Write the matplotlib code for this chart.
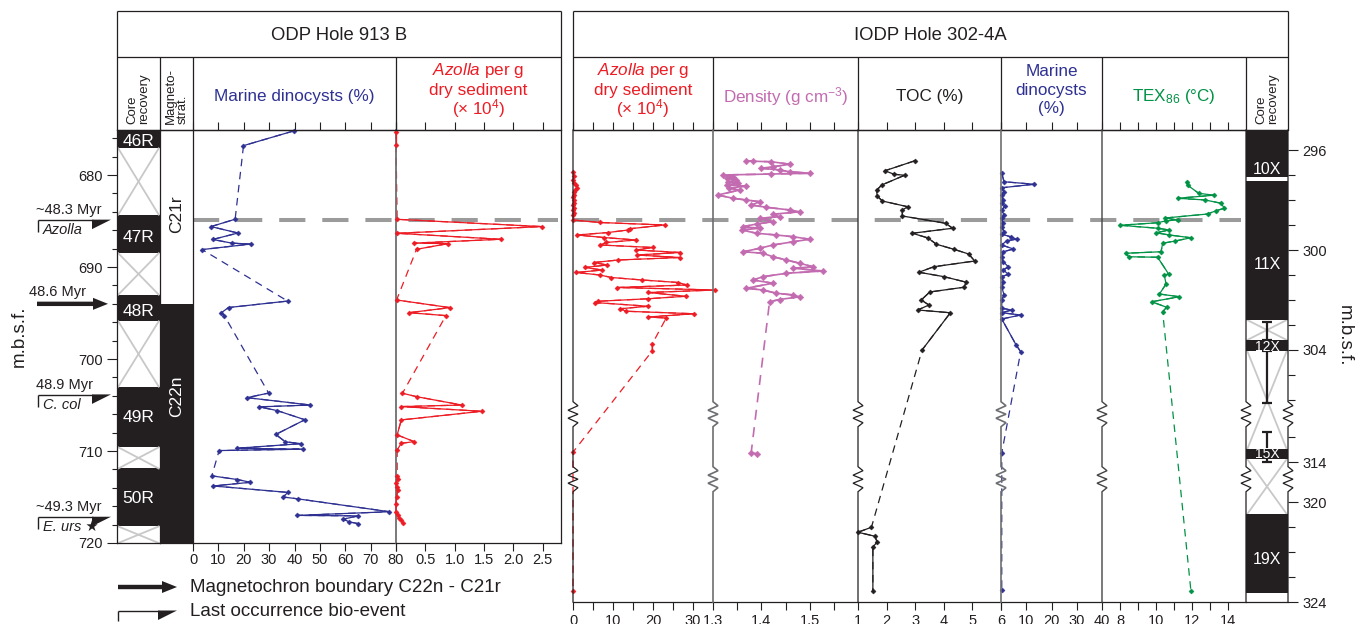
import numpy as np
import matplotlib
matplotlib.use("Agg")
import matplotlib.pyplot as plt
from matplotlib.patches import Polygon
from matplotlib.ticker import FixedLocator, NullFormatter

plt.rcParams["font.family"] = ["Liberation Sans", "DejaVu Sans"]
plt.rcParams["mathtext.fontset"] = "custom"
plt.rcParams["mathtext.rm"] = "Liberation Sans"
plt.rcParams["mathtext.it"] = "Liberation Sans:italic"
plt.rcParams["mathtext.sf"] = "Liberation Sans"
plt.rcParams["mathtext.default"] = "regular"

# =====================================================================
# DATA  -- ODP Hole 913B (depth, m.b.s.f.)
# =====================================================================
odp_core_names = ["46R", "47R", "48R", "49R", "50R"]
odp_core_top = [675.1, 684.3, 693.0, 703.0, 711.9]
odp_core_bot = [677.1, 688.5, 695.9, 709.6, 718.2]
odp_gap_top = [677.1, 688.5, 695.9, 709.6, 718.2]
odp_gap_bot = [684.3, 693.0, 703.0, 711.9, 720.0]
odp_chron_boundary = 694.0          # C22n / C21r

odp_dino_depth = [675.2, 676.8, 684.8, 685.6, 686.3, 687.0, 687.4, 687.5, 688.1,
                  693.7, 694.4, 695.0, 695.3,
                  703.7, 704.2, 705.0, 705.2, 705.6, 706.6, 708.2, 709.0, 709.2,
                  709.7, 709.8, 709.95,
                  712.7, 713.1, 713.4, 713.8, 714.5, 715.0, 715.2, 716.6, 717.0,
                  717.05, 717.4, 717.7, 717.9]
odp_dino_pct = [39.7, 19.9, 16.6, 7.1, 17.7, 7.8, 15.3, 22.7, 3.6,
                37.3, 14.0, 11.0, 12.4,
                29.8, 21.3, 46.3, 26.1, 33.1, 44.1, 32.6, 36.4, 42.6,
                17.3, 43.2, 10.3,
                7.4, 17.5, 22.6, 8.0, 37.4, 35.5, 41.3, 77.4, 41.1,
                65.2, 59.3, 61.5, 65.2]
odp_dino_gap_after = [676.8, 688.1, 695.3, 709.95]

odp_azolla_depth = [675.28, 676.73,
                    684.81, 685.6, 686.33, 686.98, 687.40, 687.45, 688.07,
                    693.58, 694.41, 694.96, 695.28,
                    703.72, 704.09, 705.0, 705.17, 705.68, 706.62, 708.25, 708.98,
                    709.16, 709.88,
                    712.71, 713.07, 713.5, 713.87, 714.23, 715.0, 715.8, 716.6,
                    716.95, 717.3, 717.5, 717.85]
odp_azolla = [0.0, 0.0,
              0.02, 2.48, 0.02, 1.78, 0.30, 0.89, 0.35,
              0.01, 0.92, 0.22, 0.85,
              0.11, 0.35, 1.12, 0.09, 1.46, 0.09, 0.02, 0.31,
              0.09, 0.02,
              0.02, 0.03, 0.0, 0.01, 0.03, 0.01, 0.0, 0.0,
              0.03, 0.05, 0.08, 0.12]
odp_azolla_gap_after = [676.73, 688.07, 695.28, 709.88]

odp_event_depth = [684.9, 694.0, 703.9, 717.2]
odp_event_age = ["~48.3 Myr", "48.6 Myr", "48.9 Myr", "~49.3 Myr"]
odp_event_taxon = ["Azolla", "", "C. col", "E. urs \u2605"]
odp_event_kind = ["LO", "chron", "LO", "LO"]

# =====================================================================
# DATA  -- IODP Hole 302-4A (depth, m.b.s.f.)
# =====================================================================
iodp_core_names = ["10X", "11X", "12X", "15X", "19X"]
iodp_core_top = [295.2, 297.24, 303.6, 313.48, 320.48]
iodp_core_bot = [297.07, 302.8, 304.04, 313.88, 323.64]
iodp_gap_top = [302.8, 304.04, 313.88]
iodp_gap_bot = [303.6, 313.48, 320.48]
iodp_range_top = [302.9, 304.04, 312.8]
iodp_range_bot = [303.6, 306.1, 314.0]
iodp_azolla_event = 298.8

iodp_azolla_depth = [296.9, 297.05, 297.2, 297.3, 297.4, 297.5, 297.6, 297.7, 297.8,
                     297.9, 298.0, 298.1, 298.2, 298.3, 298.4, 298.5, 298.6, 298.8,
                     298.9, 299.0, 299.15, 299.2, 299.3, 299.4, 299.5, 299.6, 299.7,
                     299.8, 299.9, 300.0, 300.1, 300.2, 300.3, 300.4, 300.5, 300.6,
                     300.7, 300.8, 300.9, 301.0, 301.1, 301.2, 301.3, 301.4, 301.5,
                     301.6, 301.7, 301.85, 301.95, 302.05, 302.1, 302.25, 302.35,
                     302.45, 302.55, 302.68, 302.72,
                     303.76, 304.04, 313.6, 323.56]
iodp_azolla = [0.1, 0.2, 0.1, 0.3, 0.8, 1.0, 0.6, 0.3, 0.2,
               0.1, 0.3, 0.2, 0.1, 0.2, 0.1, 0.2, 0.1, 0.0,
               6.7, 22.9, 14.2, 13.8, 8.8, 1.0, 7.7, 15.7, 8.3,
               6.8, 20.0, 15.7, 26.8, 16.0, 26.7, 11.3, 5.2, 8.5,
               2.9, 7.3, 0.8, 6.7, 9.6, 17.3, 26.3, 28.5, 11.0,
               35.6, 18.8, 28.2, 18.8, 6.3, 5.4, 18.8, 11.8,
               13.3, 30.2, 18.8, 23.3,
               19.8, 19.8, 0.0, 0.0]
iodp_azolla_gap_after = [302.72, 304.04, 313.6]

iodp_density_depth = [296.43, 296.45, 296.47, 296.57, 296.67, 296.73, 296.80, 296.87, 296.93, 296.96,
                      297.00, 297.07, 297.13, 297.20, 297.27, 297.33, 297.40, 297.44, 297.53, 297.60,
                      297.80, 297.93, 298.00, 298.07, 298.20, 298.29, 298.40, 298.47, 298.57, 298.67,
                      298.73, 298.87, 298.96, 299.07, 299.13, 299.20, 299.33, 299.40, 299.47, 299.57,
                      299.67, 299.80, 299.93, 300.07, 300.13, 300.27, 300.40, 300.53, 300.67, 300.73,
                      300.84, 300.93, 301.07, 301.20, 301.33, 301.53, 301.60, 301.73, 301.80, 301.87,
                      301.98, 302.07, 313.62, 313.66]
iodp_density = [1.369, 1.383, 1.421, 1.459, 1.424, 1.400, 1.438, 1.459, 1.500, 1.421,
                1.321, 1.341, 1.328, 1.348, 1.331, 1.352, 1.328, 1.369, 1.334, 1.355,
                1.310, 1.341, 1.369, 1.397, 1.379, 1.410, 1.459, 1.479, 1.424, 1.438,
                1.397, 1.424, 1.390, 1.362, 1.397, 1.359, 1.390, 1.431, 1.466, 1.500,
                1.466, 1.424, 1.397, 1.362, 1.403, 1.424, 1.452, 1.479, 1.507, 1.466,
                1.528, 1.452, 1.403, 1.383, 1.424, 1.369, 1.403, 1.431, 1.466, 1.479,
                1.438, 1.417, 1.379, 1.390]
iodp_density_gap_after = [302.07]

iodp_toc_depth = [296.43, 296.83, 296.97, 297.01, 297.40, 297.61, 297.84, 298.04, 298.27, 298.40,
                  298.64, 298.93, 299.13, 299.33, 299.52, 299.77, 299.97, 300.16, 300.44, 300.67,
                  300.89, 301.07, 301.29, 301.49, 301.68, 302.00, 302.20, 302.40, 302.51, 304.00,
                  321.01, 321.21, 321.37, 321.60, 321.80, 323.56]
iodp_toc = [2.99, 1.94, 2.26, 2.63, 1.83, 1.65, 1.67, 1.85, 2.74, 2.55,
            2.55, 4.06, 4.31, 2.90, 3.45, 3.74, 4.35, 4.87, 5.08, 3.65,
            3.13, 4.02, 4.79, 4.70, 3.51, 3.21, 3.48, 3.09, 4.23, 3.24,
            1.47, 1.00, 1.59, 1.67, 1.52, 1.52]
iodp_toc_gap_after = [304.00]

iodp_dino_depth = [296.93, 297.27, 297.37, 297.51, 297.67, 297.80, 298.00, 298.13, 298.24, 298.40,
                   298.60, 298.73, 298.93, 299.09, 299.27, 299.37, 299.47, 299.57, 299.63, 299.80,
                   299.96, 300.07, 300.27, 300.47, 300.67, 300.80, 300.97, 301.07, 301.27, 301.47,
                   301.80, 302.00, 302.33, 302.40, 302.51, 302.60, 302.76, 303.80, 304.07, 313.63,
                   323.52]
iodp_dino_pct = [0.3, 1.2, 13.1, 0.3, 1.2, 0.3, 0.9, 0.3, 1.6, 0.3,
                 1.2, 0.3, 0.9, 0.3, 1.2, 0.3, 3.8, 6.2, 2.2, 0.3,
                 4.9, 0.9, 0.3, 0.9, 2.9, 0.9, 2.9, 0.3, 0.9, 0.3,
                 1.2, 0.3, 0.3, 4.2, 0.3, 7.8, 0.3, 6.0, 7.8, 0.3,
                 0.3]
iodp_dino_gap_after = [304.07, 313.63]

iodp_tex_depth = [297.27, 297.41, 297.73, 297.81, 297.93, 298.00, 298.13, 298.33, 298.43, 298.56,
                  298.72, 298.80, 298.83, 298.91, 299.01, 299.13, 299.20, 299.31, 299.40, 299.51,
                  299.64, 299.73, 300.07, 300.13, 300.27, 300.29, 300.96, 301.00, 301.36, 301.76,
                  301.87, 302.07, 302.29, 302.47, 323.56]
iodp_tex = [11.70, 11.76, 12.37, 13.20, 11.20, 12.74, 13.61, 13.80, 13.33, 12.87,
            10.52, 11.20, 10.56, 10.09, 8.00, 10.09, 10.74, 10.00, 10.74, 11.94,
            11.07, 10.37, 10.28, 8.33, 8.48, 10.09, 10.70, 10.46, 10.56, 10.19,
            11.30, 9.76, 10.59, 10.37, 11.94]
iodp_tex_gap_after = [302.47]

# =====================================================================
# LAYOUT / STYLE
# =====================================================================
W, H = 1359, 624
fig = plt.figure(figsize=(W / 100, H / 100), dpi=100)

INK = "#231f20"
BLUE = "#2e3192"
RED = "#ed1c24"
PINK = "#c36bb0"
GREEN = "#009245"
GREYLINE = "#9b9b9b"
XGREY = "#c8c8c8"
MIDGREY = "#6d6e71"


def box(x0, x1, y0, y1):
    return [x0 / W, 1 - y1 / H, (x1 - x0) / W, (y1 - y0) / H]


def base(ax):
    ax.set_facecolor("none")
    for s in ax.spines.values():
        s.set_color(INK)
        s.set_linewidth(0.9)
    ax.tick_params(which="both", direction="out", width=0.8, colors=INK,
                   labelsize=10.5, left=False, labelleft=False)


def draw_series(ax, val, depth, gap_after, color, lw=0.9, ms=2.6):
    val = np.asarray(val, float)
    depth = np.asarray(depth, float)
    rid = np.zeros(len(depth), int)
    for g in gap_after:
        rid[depth > g] += 1
    ax.plot(val, depth, color=color, lw=lw, ls=(0, (6, 4.5)), zorder=2, clip_on=False)
    for r in np.unique(rid):
        m = rid == r
        ax.plot(val[m], depth[m], color=color, lw=lw, ls="-", marker="D", ms=ms,
                mew=0.3, zorder=3, clip_on=False)


def draw_gapbox(ax, top, bot):
    ax.plot([0.03, 0.97], [top, bot], color=XGREY, lw=1.3, zorder=1)
    ax.plot([0.03, 0.97], [bot, top], color=XGREY, lw=1.3, zorder=1)


# ---------------- left group (ODP 913B) ----------------
L_TOP, L_BOT = 130, 543
ax_cL = fig.add_axes(box(117, 160, L_TOP, L_BOT))
ax_mL = fig.add_axes(box(160, 193, L_TOP, L_BOT))
ax_dL = fig.add_axes(box(193, 396, L_TOP, L_BOT))
ax_aL = fig.add_axes(box(396, 561, L_TOP, L_BOT))
for ax in (ax_cL, ax_mL, ax_dL, ax_aL):
    base(ax)
    ax.set_ylim(720, 675.1)

# core recovery
ax_cL.set_xlim(0, 1)
ax_cL.set_xticks([])
ax_cL.spines["right"].set_visible(False)
ax_cL.yaxis.set_major_locator(FixedLocator([680, 690, 700, 710, 720]))
ax_cL.yaxis.set_minor_locator(FixedLocator([676, 678, 682, 684, 686, 688, 692, 694, 696,
                                            698, 702, 704, 706, 708, 712, 714, 716, 718]))
ax_cL.yaxis.set_minor_formatter(NullFormatter())
ax_cL.tick_params(axis="y", which="both", left=True, labelleft=True)
ax_cL.tick_params(axis="y", which="major", length=7.5, pad=3)
ax_cL.tick_params(axis="y", which="minor", length=3.8)
for name, t, b in zip(odp_core_names, odp_core_top, odp_core_bot):
    ax_cL.axhspan(t, b, color=INK, lw=0, zorder=1)
for t, b in zip(odp_gap_top, odp_gap_bot):
    draw_gapbox(ax_cL, t, b)
odp_label_depth = [676.3, 686.8, 694.8, 706.35, 715.2]
for name, d in zip(odp_core_names, odp_label_depth):
    ax_cL.text(0.5, d, name, color="white", ha="center", va="center", fontsize=12.5, zorder=4)

# magnetostratigraphy
ax_mL.set_xlim(0, 1)
ax_mL.set_xticks([])
ax_mL.spines["right"].set_visible(False)
ax_mL.axhspan(odp_chron_boundary, 720, color=INK, lw=0, zorder=1)
ax_mL.text(0.5, 684.3, "C21r", rotation=90, ha="center", va="center", fontsize=12.5, color=INK)
ax_mL.text(0.5, 704.1, "C22n", rotation=90, ha="center", va="center", fontsize=12.5, color="white")

# marine dinocysts (913B)
ax_dL.set_xlim(0, 80)
ax_dL.set_xticks(np.arange(0, 81, 10), [str(v) for v in range(0, 81, 10)])
ax_dL.tick_params(axis="x", top=True, length=5.5, pad=1.5)
ax_dL.spines["right"].set_visible(False)
draw_series(ax_dL, odp_dino_pct, odp_dino_depth, odp_dino_gap_after, BLUE)
ax_dL.axhline(odp_event_depth[0], xmin=0, xmax=(558 - 193) / 203, color=GREYLINE, lw=2.9,
              ls=(0, (6.5, 4.2)), clip_on=False, zorder=1)

# Azolla (913B)
ax_aL.set_xlim(0, 2.81)
ax_aL.set_xticks([0, 0.5, 1.0, 1.5, 2.0, 2.5], ["", "0.5", "1.0", "1.5", "2.0", "2.5"])
ax_aL.tick_params(axis="x", top=True, length=5.5, pad=1.5)
ax_aL.spines["left"].set_color(MIDGREY)
ax_aL.spines["left"].set_linewidth(1.3)
draw_series(ax_aL, odp_azolla, odp_azolla_depth, odp_azolla_gap_after, RED)

# ---------------- right group (IODP 302-4A) ----------------
SCALE_D = [290.0, 306.1, 312.3, 314.2, 319.5, 330.0]
SCALE_P = [0.0, 402.5, 420.0, 467.0, 489.5, 752.0]


def fwd(d):
    return np.interp(d, SCALE_D, SCALE_P)


def inv(p):
    return np.interp(p, SCALE_P, SCALE_D)


R_TOP, R_BOT = 130, 602
ax_aR = fig.add_axes(box(573, 713, R_TOP, R_BOT))
ax_nR = fig.add_axes(box(713, 858, R_TOP, R_BOT))
ax_tR = fig.add_axes(box(858, 1001, R_TOP, R_BOT))
ax_dR = fig.add_axes(box(1001, 1102, R_TOP, R_BOT))
ax_xR = fig.add_axes(box(1102, 1246, R_TOP, R_BOT))
ax_cR = fig.add_axes(box(1246, 1288, R_TOP, R_BOT))
for ax in (ax_aR, ax_nR, ax_tR, ax_dR, ax_xR, ax_cR):
    base(ax)
    ax.set_yscale("function", functions=(fwd, inv))
    ax.set_ylim(324.0, 295.2)
    ax.spines["left"].set_visible(False)
    ax.spines["right"].set_visible(False)
    ax.tick_params(axis="y", which="both", left=False, labelleft=False)
    ax.tick_params(axis="x", which="both", top=True, length=5.5, pad=3)

ax_aR.set_xlim(0, 35)
ax_aR.set_xticks([0, 10, 20, 30], ["0", "10", "20", "30"])
ax_aR.set_xticks([5, 15, 25], minor=True)
draw_series(ax_aR, iodp_azolla, iodp_azolla_depth, iodp_azolla_gap_after, RED)
ax_aR.axhline(iodp_azolla_event, xmin=0, xmax=(1241 - 573) / 140, color=GREYLINE, lw=2.9,
              ls=(0, (6.5, 4.2)), clip_on=False, zorder=1)

ax_nR.set_xlim(1.3, 1.6)
ax_nR.set_xticks([1.3, 1.4, 1.5], ["1.3", "1.4", "1.5"])
ax_nR.set_xticks([1.35, 1.45, 1.55], minor=True)
draw_series(ax_nR, iodp_density, iodp_density_depth, iodp_density_gap_after, PINK,
            lw=1.2, ms=3.4)

ax_tR.set_xlim(1, 6)
ax_tR.set_xticks([1, 2, 3, 4, 5, 6], ["1", "2", "3", "4", "5", "6"])
draw_series(ax_tR, iodp_toc, iodp_toc_depth, iodp_toc_gap_after, INK)

ax_dR.set_xlim(0, 40)
ax_dR.set_xticks([0, 10, 20, 30, 40], ["", "10", "20", "30", "40"])
draw_series(ax_dR, iodp_dino_pct, iodp_dino_depth, iodp_dino_gap_after, BLUE)

ax_xR.set_xlim(7, 15)
ax_xR.set_xticks([8, 10, 12, 14], ["8", "10", "12", "14"])
ax_xR.set_xticks([9, 11, 13], minor=True)
draw_series(ax_xR, iodp_tex, iodp_tex_depth, iodp_tex_gap_after, GREEN)

# core recovery (302-4A)
ax_cR.set_xlim(0, 1)
ax_cR.set_xticks([])
ax_cR.tick_params(axis="x", which="both", top=False, bottom=False)
ax_cR.yaxis.set_major_locator(FixedLocator([296, 300, 304, 314, 320, 324]))
ax_cR.yaxis.set_minor_locator(FixedLocator([297, 298, 299, 301, 302, 303, 305, 306, 313,
                                            321, 322, 323]))
ax_cR.yaxis.set_minor_formatter(NullFormatter())
ax_cR.tick_params(axis="y", which="both", right=True, labelright=True, left=False, labelleft=False)
ax_cR.tick_params(axis="y", which="major", length=7.5, pad=3)
ax_cR.tick_params(axis="y", which="minor", length=5)
for t, b in zip(iodp_core_top, iodp_core_bot):
    ax_cR.axhspan(t, b, color=INK, lw=0, zorder=2)
for t, b in zip(iodp_gap_top, iodp_gap_bot):
    draw_gapbox(ax_cR, t, b)
for t, b in zip(iodp_range_top, iodp_range_bot):
    ax_cR.errorbar([0.5], [(t + b) / 2], yerr=[(b - t) / 2], fmt="none", ecolor=INK,
                   elinewidth=1.6, capsize=3.3, capthick=1.6, zorder=3)
iodp_label_depth = [296.76, 300.56, 303.88, 313.68, 322.32]
for name, d, t, b in zip(iodp_core_names, iodp_label_depth, iodp_core_top, iodp_core_bot):
    ax_cR.text(0.5, d, name, color="white", ha="center", va="center",
               fontsize=11.5 if (b - t) > 1 else 10, zorder=4)

# =====================================================================
# OVERLAY: frames, headers, break symbols, annotations
# =====================================================================
ov = fig.add_axes([0, 0, 1, 1], zorder=10)
ov.set_xlim(0, W)
ov.set_ylim(H, 0)
ov.axis("off")


def seg(x0, y0, x1, y1, color=INK, lw=0.9):
    ov.plot([x0, x1], [y0, y1], color=color, lw=lw, solid_capstyle="butt")


# left header frame
for y in (11, 57, 130):
    seg(117, y, 561, y)
seg(117, 11, 117, 130)
seg(561, 11, 561, 130)
for x in (160, 193, 396):
    seg(x, 57, x, 130)
# right header frame
for y in (11, 57, 130):
    seg(573, y, 1288, y)
seg(573, 11, 573, 130)
seg(1288, 11, 1288, 130)
for x in (713, 858, 1001, 1102, 1246):
    seg(x, 57, x, 130)

# right vertical axis lines with break (zig-zag) symbols
ZZ = [(0, 0), (5, 4), (-5, 8.5), (5, 12.5), (-5, 16.5), (5, 21), (0, 25)]
for x, col, lw in [(573, INK, 0.9), (713, MIDGREY, 1.2), (858, INK, 0.9), (1001, MIDGREY, 1.2),
                   (1102, "#444444", 1.0), (1246, INK, 0.9), (1288, INK, 0.9)]:
    pts = [(x, 130)]
    for y0 in (401.7, 466.7):
        pts += [(x + dx, y0 + dy) for dx, dy in ZZ]
    pts.append((x, 602))
    xs, ys = zip(*pts)
    ov.plot(xs, ys, color=col, lw=lw, solid_joinstyle="miter")

# titles
ov.text(339, 35, "ODP Hole 913 B", ha="center", va="center", fontsize=13.3, color=INK)
ov.text(930, 36, "IODP Hole 302-4A", ha="center", va="center", fontsize=13.3, color=INK)

# column headers
ov.text(138.5, 124, "Core\nrecovery", rotation=90, ha="center", va="bottom",
        multialignment="left", fontsize=9.5, color=INK, linespacing=1.0)
ov.text(176.5, 124, "Magneto-\nstrat.", rotation=90, ha="center", va="bottom",
        multialignment="left", fontsize=9.5, color=INK, linespacing=1.0)
ov.text(1267, 124, "Core\nrecovery", rotation=90, ha="center", va="bottom",
        multialignment="left", fontsize=9.5, color=INK, linespacing=1.0)
ov.text(294.5, 97, "Marine dinocysts (%)", ha="center", va="center", fontsize=12.3, color=BLUE)
for xc in (478.5, 643):
    ov.text(xc, 71, r"$\mathit{Azolla}$ per g", ha="center", va="center", fontsize=12.3, color=RED)
    ov.text(xc, 90, "dry sediment", ha="center", va="center", fontsize=12.3, color=RED)
    ov.text(xc, 109, "(\u00d7 10$^{4}$)", ha="center", va="center", fontsize=12.3, color=RED)
ov.text(785.5, 97, "Density (g cm$^{-3}$)", ha="center", va="center", fontsize=12.3, color=PINK)
ov.text(929.5, 97, "TOC (%)", ha="center", va="center", fontsize=12.3, color=INK)
ov.text(1051.5, 71, "Marine", ha="center", va="center", fontsize=12.3, color=BLUE)
ov.text(1051.5, 90, "dinocysts", ha="center", va="center", fontsize=12.3, color=BLUE)
ov.text(1051.5, 109, "(%)", ha="center", va="center", fontsize=12.3, color=BLUE)
ov.text(1174, 97, "TEX$_{86}$ (\u00b0C)", ha="center", va="center", fontsize=12.3, color=GREEN)

# depth axis titles
ov.text(19, 336, "m.b.s.f.", rotation=90, ha="center", va="center", fontsize=13.5, color=INK)
ov.text(1344, 336, "m.b.s.f.", rotation=270, ha="center", va="center", fontsize=13.5, color=INK)


def ypix(ax, depth):
    return H - ax.transData.transform((0.5, depth))[1]


def draw_arrow(x0, x1, y):
    ov.add_patch(Polygon([(x0, y - 2.2), (x1 - 15, y - 2.2), (x1 - 15, y - 6), (x1, y),
                          (x1 - 15, y + 6), (x1 - 15, y + 2.2), (x0, y + 2.2)],
                         closed=True, color=INK, lw=0))


def draw_flag(x0, x1, y, drop=12):
    seg(x0, y + drop, x0, y, lw=1.0)
    seg(x0, y, x1 - 18, y, lw=1.0)
    ov.add_patch(Polygon([(x1 - 19, y - 0.5), (x1, y - 0.5), (x1 - 19, y + 9)],
                         closed=True, color=INK, lw=0))


for d, age, taxon, kind in zip(odp_event_depth, odp_event_age, odp_event_taxon, odp_event_kind):
    y = ypix(ax_cL, d)
    if kind == "chron":
        draw_arrow(37, 108, y)
        ov.text(29, y - 12, age, ha="left", va="center", fontsize=10.5, color=INK)
    else:
        draw_flag(38, 111, y)
        ov.text(36, y - 10, age, ha="left", va="center", fontsize=10.5, color=INK)
        ov.text(43, y + 10, taxon, ha="left", va="center", fontsize=10.5, color=INK,
                style="italic")

# legend
draw_arrow(118, 177, 587)
ov.text(190, 587, "Magnetochron boundary C22n - C21r", ha="left", va="center",
        fontsize=13.5, color=INK)
draw_flag(118, 177, 611, drop=10)
ov.text(190, 611, "Last occurrence bio-event", ha="left", va="center", fontsize=13.5, color=INK)

fig.savefig("out.png", dpi=100)
